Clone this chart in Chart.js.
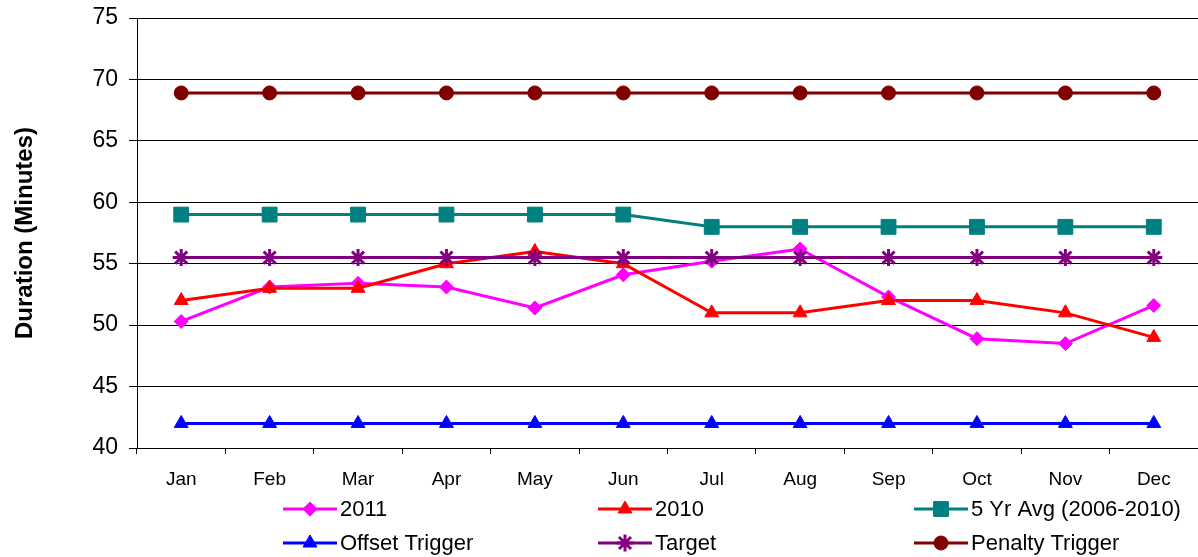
<!DOCTYPE html>
<html>
<head>
<meta charset="utf-8">
<title>Duration (Minutes)</title>
<script src="https://cdn.jsdelivr.net/npm/chart.js@4/dist/chart.umd.min.js"></script>
<style>
  html, body { margin: 0; padding: 0; background: #fff; }
  #wrap { width: 1198px; height: 557px; }
</style>
</head>
<body>
<div id="wrap"><canvas id="c" width="1198" height="557"></canvas></div>
<script>
// Monthly outage duration, in minutes
const months = ['Jan', 'Feb', 'Mar', 'Apr', 'May', 'Jun', 'Jul', 'Aug', 'Sep', 'Oct', 'Nov', 'Dec'];
const yTicks = [40, 45, 50, 55, 60, 65, 70, 75];

const series2011 = [50.3, 53.1, 53.4, 53.1, 51.4, 54.1, 55.2, 56.2, 52.3, 48.9, 48.5, 51.6];
const series2010 = [52, 53, 53, 55, 56, 55, 51, 51, 52, 52, 51, 49];
const fiveYearAvg = [59, 59, 59, 59, 59, 59, 58, 58, 58, 58, 58, 58];
const offsetTrigger = [42, 42, 42, 42, 42, 42, 42, 42, 42, 42, 42, 42];
const target = [55.5, 55.5, 55.5, 55.5, 55.5, 55.5, 55.5, 55.5, 55.5, 55.5, 55.5, 55.5];
const penaltyTrigger = [68.9, 68.9, 68.9, 68.9, 68.9, 68.9, 68.9, 68.9, 68.9, 68.9, 68.9, 68.9];

const FONT = '"Liberation Sans", Arial, sans-serif';

function lineSet(label, data, color, style, radius, order, pbw) {
  return {
    label, data, order,
    borderColor: color,
    backgroundColor: color,
    borderWidth: 3,
    pointStyle: style,
    pointRadius: radius,
    pointBackgroundColor: color,
    pointBorderColor: color,
    pointBorderWidth: pbw || 1,
    tension: 0,
    fill: false,
    clip: false
  };
}

// Legend laid out as a 3 x 2 grid under the plot
const gridLegend = {
  id: 'gridLegend',
  afterDraw(chart) {
    const ctx = chart.ctx;
    const cols = [283, 598, 914];
    const rows = [509, 543];
    const seg = 54;
    chart.data.datasets.forEach((ds, i) => {
      const x = cols[i % 3];
      const y = rows[Math.floor(i / 3)];
      ctx.save();
      ctx.strokeStyle = ds.borderColor;
      ctx.lineWidth = ds.borderWidth;
      ctx.beginPath();
      ctx.moveTo(x, y);
      ctx.lineTo(x + seg, y);
      ctx.stroke();
      ctx.fillStyle = ds.pointBackgroundColor;
      ctx.strokeStyle = ds.pointBorderColor;
      ctx.lineWidth = ds.pointBorderWidth;
      Chart.helpers.drawPoint(ctx, {
        pointStyle: ds.pointStyle,
        radius: ds.pointRadius,
        borderWidth: ds.pointBorderWidth,
        rotation: 0
      }, x + seg / 2, y);
      ctx.fillStyle = '#000';
      ctx.font = '22px ' + FONT;
      ctx.textAlign = 'left';
      ctx.textBaseline = 'middle';
      ctx.fillText(ds.label, x + seg + 3, y + 1);
      ctx.restore();
    });
  }
};

new Chart(document.getElementById('c'), {
  type: 'line',
  data: {
    labels: months,
    datasets: [
      lineSet('2011', series2011, '#FF00FF', 'rectRot', 7, 6),
      lineSet('2010', series2010, '#FF0000', 'triangle', 8, 5),
      lineSet('5 Yr Avg (2006-2010)', fiveYearAvg, '#008080', 'rect', 10.5, 4),
      lineSet('Offset Trigger', offsetTrigger, '#0000FF', 'triangle', 8, 3),
      lineSet('Target', target, '#800080', 'star', 8.5, 2, 3),
      lineSet('Penalty Trigger', penaltyTrigger, '#800000', 'circle', 7, 1)
    ]
  },
  options: {
    responsive: false,
    animation: false,
    events: [],
    layout: {
      autoPadding: false,
      padding: { top: 18, right: 0, bottom: 64, left: 0 }
    },
    plugins: {
      legend: { display: false },
      tooltip: { enabled: false }
    },
    scales: {
      x: {
        type: 'category',
        offset: true,
        afterFit(scale) {
          scale.height = 45;
          scale.paddingLeft = 0;
          scale.paddingRight = 0;
        },
        grid: {
          offset: true,
          drawOnChartArea: false,
          drawTicks: true,
          tickLength: 6,
          color: '#000',
          lineWidth: 1
        },
        border: { display: true, color: '#000', width: 1 },
        ticks: {
          color: '#000',
          font: { family: FONT, size: 19 },
          padding: 14,
          maxRotation: 0,
          autoSkip: false
        }
      },
      y: {
        min: yTicks[0],
        max: yTicks[yTicks.length - 1],
        afterFit(scale) {
          scale.width = 137;
          scale.paddingTop = 0;
          scale.paddingBottom = 0;
        },
        afterBuildTicks(scale) { scale.ticks = yTicks.map(v => ({ value: v })); },
        grid: {
          drawOnChartArea: true,
          drawTicks: true,
          tickLength: 8,
          color: '#000',
          lineWidth: 1
        },
        border: { display: true, color: '#000', width: 1 },
        ticks: {
          color: '#000',
          font: { family: FONT, size: 23 },
          padding: 11
        },
        title: {
          display: true,
          text: 'Duration (Minutes)',
          color: '#000',
          font: { family: FONT, size: 24, weight: 'bold' },
          padding: { top: 11, bottom: 0 }
        }
      }
    }
  },
  plugins: [gridLegend]
});
</script>
</body>
</html>
